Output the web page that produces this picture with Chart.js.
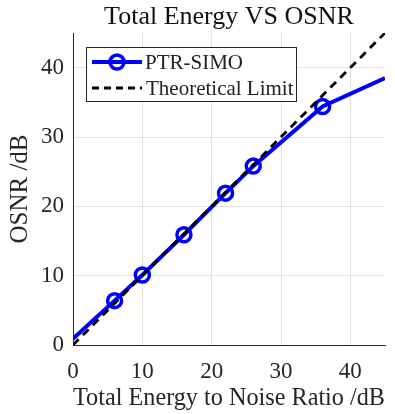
<!DOCTYPE html>
<html>
<head>
<meta charset="utf-8">
<script src="https://cdn.jsdelivr.net/npm/chart.js@4"></script>
<style>
  html, body { margin: 0; padding: 0; background: #fff; }
  #wrap { width: 395px; height: 414px; }
</style>
</head>
<body>
<div id="wrap"><canvas id="osnrChart" width="395" height="414"></canvas></div>
<script>
// measured curve
const energy = [0, 6, 10, 16, 22, 26, 36, 45];
const osnr = [0.9, 6.4, 10.1, 15.9, 21.9, 25.8, 34.4, 38.5];
const markerShown = [false, true, true, true, true, true, true, false];

// ideal case OSNR = energy ratio
const limitX = [0, 45];
const limitY = [0, 45];

const xTicks = [0, 10, 20, 30, 40];
const yTicks = [0, 10, 20, 30, 40];

const seriesNames = ['PTR-SIMO', 'Theoretical Limit'];

const serif = "'Liberation Serif', 'Times New Roman', serif";
const axisColor = '#262626';
const gridColor = '#e3e3e3';

const toPoints = (xs, ys) => xs.map((x, i) => ({ x: x, y: ys[i] }));

// white background + title + boxed legend inside the axes
const decorations = {
  id: 'decorations',
  beforeDraw(chart) {
    const c = chart.ctx;
    c.save();
    c.fillStyle = '#fff';
    c.fillRect(0, 0, chart.width, chart.height);
    c.restore();
  },
  afterDraw(chart) {
    const c = chart.ctx;
    const area = chart.chartArea;
    c.save();
    c.fillStyle = '#111';
    c.font = '26px ' + serif;
    c.textAlign = 'center';
    c.textBaseline = 'middle';
    c.fillText('Total Energy VS OSNR', (area.left + area.right) / 2, 17);

    // legend box
    const bx = 86, by = 47, bw = 210, bh = 54;
    c.fillStyle = '#fff';
    c.fillRect(bx, by, bw, bh);
    c.strokeStyle = axisColor;
    c.lineWidth = 1;
    c.strokeRect(bx + 0.5, by + 0.5, bw, bh);

    const row1 = 62, row2 = 88;
    c.strokeStyle = '#0000ff';
    c.lineWidth = 4;
    c.beginPath();
    c.moveTo(92, row1);
    c.lineTo(142, row1);
    c.stroke();
    c.lineWidth = 3.5;
    c.beginPath();
    c.arc(117, row1, 7, 0, Math.PI * 2);
    c.stroke();

    c.strokeStyle = '#000';
    c.lineWidth = 2.8;
    c.setLineDash([7, 5]);
    c.beginPath();
    c.moveTo(92, row2);
    c.lineTo(142, row2);
    c.stroke();
    c.setLineDash([]);

    c.fillStyle = '#222';
    c.font = '21px ' + serif;
    c.textAlign = 'left';
    c.fillText(seriesNames[0], 145, row1 + 1);
    c.fillText(seriesNames[1], 146, row2 + 1);
    c.restore();
  }
};

const ctx = document.getElementById('osnrChart').getContext('2d');
new Chart(ctx, {
  type: 'line',
  data: {
    datasets: [{
      label: seriesNames[1],
      data: toPoints(limitX, limitY),
      borderColor: '#000',
      borderWidth: 2.8,
      borderDash: [8, 6],
      pointRadius: 0,
      order: 0
    }, {
      label: seriesNames[0],
      data: toPoints(energy, osnr),
      borderColor: '#0000ff',
      borderWidth: 4,
      pointRadius: markerShown.map(s => s ? 7 : 0),
      pointBorderWidth: 3.5,
      pointBorderColor: '#0000ff',
      pointBackgroundColor: 'rgba(0,0,0,0)',
      order: 1
    }]
  },
  options: {
    responsive: false,
    animation: false,
    layout: { padding: { top: 33, right: 10, left: 0, bottom: 0 } },
    plugins: {
      legend: { display: false },
      tooltip: { enabled: false },
      title: { display: false }
    },
    scales: {
      x: {
        type: 'linear',
        min: 0,
        max: 45,
        afterBuildTicks: s => { s.ticks = xTicks.map(v => ({ value: v })); },
        afterFit: s => { s.height = 69; },
        grid: {
          color: c => c.tick && c.tick.value === 0 ? 'rgba(0,0,0,0)' : gridColor,
          drawTicks: false
        },
        border: { color: axisColor, width: 1 },
        ticks: {
          color: axisColor,
          padding: 13,
          maxRotation: 0,
          font: { family: serif, size: 23 }
        },
        title: {
          display: true,
          text: 'Total Energy to Noise Ratio /dB',
          color: axisColor,
          font: { family: serif, size: 26 },
          padding: { top: 0, bottom: 0 }
        }
      },
      y: {
        type: 'linear',
        min: 0,
        max: 45,
        afterBuildTicks: s => { s.ticks = yTicks.map(v => ({ value: v })); },
        afterFit: s => { s.width = 73; },
        grid: {
          color: c => c.tick && c.tick.value === 0 ? 'rgba(0,0,0,0)' : gridColor,
          drawTicks: false
        },
        border: { color: axisColor, width: 1 },
        ticks: {
          color: axisColor,
          padding: 9,
          font: { family: serif, size: 23 }
        },
        title: {
          display: true,
          text: 'OSNR /dB',
          color: axisColor,
          font: { family: serif, size: 25 },
          padding: { top: 5, bottom: 0 }
        }
      }
    }
  },
  plugins: [decorations]
});
</script>
</body>
</html>
